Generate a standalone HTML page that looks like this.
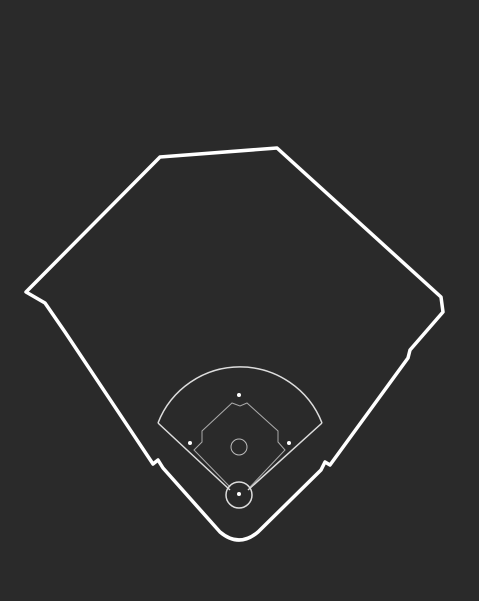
<!DOCTYPE html>
<html><head><meta charset="utf-8"><style>
html,body{margin:0;padding:0;background:#2a2a2a;width:479px;height:601px;overflow:hidden}
</style></head><body>
<svg width="479" height="601" viewBox="0 0 479 601">
<rect width="479" height="601" fill="#2a2a2a"/>
<path d="M220,532 L163,468 L158,460 L153,464 L65,332 L45,303 L26,292 L160,157 L277,148 L441,297 L443,312 L410,350 L408,358 L330,465 L325,462 L321,470 L258,532 Q239,548 220,532 Z" fill="none" stroke="#fff" stroke-width="3.5" stroke-linejoin="round"/>
<path d="M158,423 A88,88 0 0 1 322,423" fill="none" stroke="#ddd" stroke-width="1.5"/>
<path d="M158,423 L230,490 M322,423 L248,490" fill="none" stroke="#ddd" stroke-width="1.5"/>
<path d="M230,487 L194,450 L202,442 L202,431 L232,403 L240,406 L247,403 L278,431 L278,442 L285,450 L250,487" fill="none" stroke="#aaa" stroke-width="1"/>
<circle cx="239" cy="447" r="8" fill="none" stroke="#bbb" stroke-width="1"/>
<circle cx="239" cy="495" r="13" fill="none" stroke="#ddd" stroke-width="1.5"/>
<circle cx="239" cy="494" r="2" fill="#fff"/>
<circle cx="239" cy="395" r="2" fill="#fff"/>
<circle cx="289" cy="443" r="2" fill="#fff"/>
<circle cx="190" cy="443" r="2" fill="#fff"/>
</svg>
</body></html>
